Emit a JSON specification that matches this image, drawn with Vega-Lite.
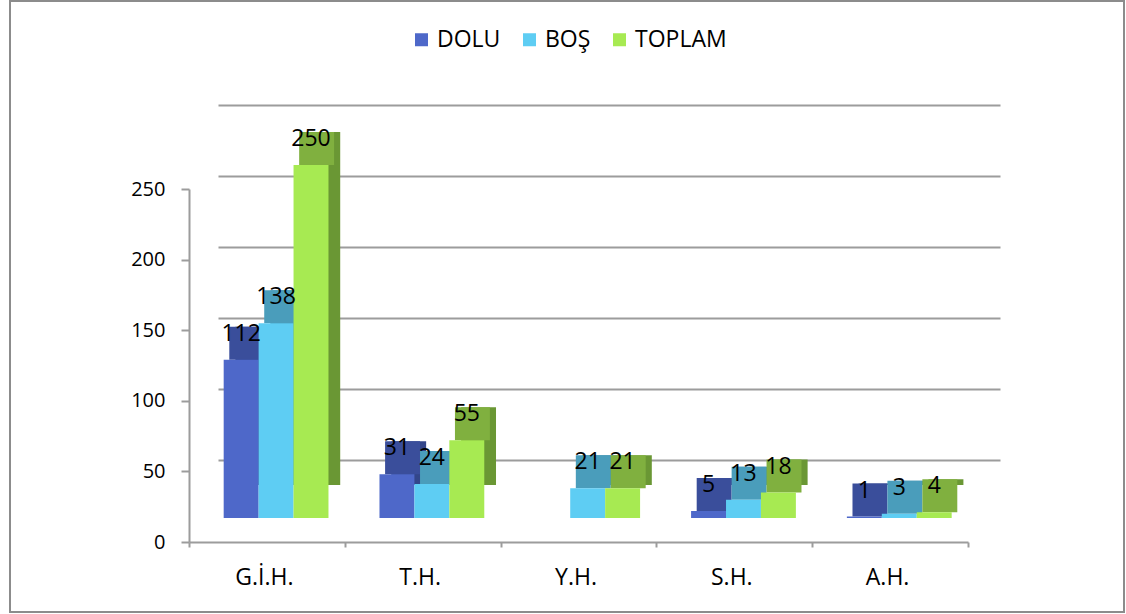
{
  "$schema": "https://vega.github.io/schema/vega-lite/v6.json",
  "width": 1114,
  "height": 611,
  "padding": {"left": 10, "top": 1, "right": 2, "bottom": 2},
  "autosize": {"type": "none"},
  "config": {
    "view": {"stroke": "#8c8c8c", "strokeWidth": 2},
    "font": "Open Sans"
  },
  "data": {
    "values": [
      {"cat": "G.İ.H.", "series": "DOLU", "value": 112},
      {"cat": "G.İ.H.", "series": "BOŞ", "value": 138},
      {"cat": "G.İ.H.", "series": "TOPLAM", "value": 250},
      {"cat": "T.H.", "series": "DOLU", "value": 31},
      {"cat": "T.H.", "series": "BOŞ", "value": 24},
      {"cat": "T.H.", "series": "TOPLAM", "value": 55},
      {"cat": "Y.H.", "series": "BOŞ", "value": 21},
      {"cat": "Y.H.", "series": "TOPLAM", "value": 21},
      {"cat": "S.H.", "series": "DOLU", "value": 5},
      {"cat": "S.H.", "series": "BOŞ", "value": 13},
      {"cat": "S.H.", "series": "TOPLAM", "value": 18},
      {"cat": "A.H.", "series": "DOLU", "value": 1},
      {"cat": "A.H.", "series": "BOŞ", "value": 3},
      {"cat": "A.H.", "series": "TOPLAM", "value": 4}
    ]
  },
  "layer": [
    {
      "mark": {"type": "bar", "opacity": 0},
      "encoding": {
        "x": {
          "field": "cat", "type": "nominal",
          "sort": ["G.İ.H.", "T.H.", "Y.H.", "S.H.", "A.H."],
          "scale": {"range": [208, 990], "paddingInner": 0, "paddingOuter": 0},
          "axis": null
        },
        "y": {
          "field": "value", "type": "quantitative",
          "scale": {"domain": [0, 250], "range": [459, 104], "nice": false},
          "axis": {
            "orient": "left", "grid": true, "gridColor": "#9c9c9c", "gridWidth": 2,
            "labels": false, "ticks": false, "domain": false, "title": null,
            "values": [0, 50, 100, 150, 200, 250]
          }
        }
      }
    },
    {
      "resolve": {"scale": {"color": "independent", "xOffset": "independent"}},
      "encoding": {
        "x": {
          "field": "cat", "type": "nominal",
          "sort": ["G.İ.H.", "T.H.", "Y.H.", "S.H.", "A.H."],
          "scale": {"range": [179, 958], "paddingInner": 0, "paddingOuter": 0},
          "axis": {
            "orient": "bottom", "offset": -70, "title": null, "labelAngle": 0,
            "tickBand": "extent", "domainColor": "#9c9c9c", "domainWidth": 2,
            "tickColor": "#9c9c9c", "tickWidth": 2, "tickSize": 5,
            "labelFont": "Open Sans", "labelFontSize": 23, "labelColor": "black",
            "labelPadding": 19, "labelOffset": -3
          }
        },
        "y": {
          "field": "value", "type": "quantitative",
          "scale": {"domain": [0, 250], "range": [541, 188], "nice": false},
          "axis": {
            "orient": "left", "offset": -179, "grid": false, "title": null,
            "values": [0, 50, 100, 150, 200, 250],
            "domainColor": "#9c9c9c", "domainWidth": 2,
            "tickColor": "#9c9c9c", "tickWidth": 2, "tickSize": 8,
            "labelFont": "Open Sans", "labelFontSize": 20, "labelColor": "black",
            "labelPadding": 16
          }
        }
      },
      "layer": [
        {
          "mark": {"type": "bar", "yOffset": -57, "y2Offset": -57},
          "encoding": {
            "xOffset": {
              "field": "series", "type": "nominal", "sort": ["DOLU", "BOŞ", "TOPLAM"],
              "scale": {"type": "band", "paddingInner": 0, "paddingOuter": 0.73, "align": 0.91}
            },
            "color": {
              "field": "series", "type": "nominal",
              "scale": {"domain": ["DOLU", "BOŞ", "TOPLAM"], "range": ["#33468a", "#3e8ba7", "#6a9734"]},
              "legend": null
            }
          }
        },
        {
          "mark": {"type": "bar", "yOffset": -57, "y2Offset": -24},
          "encoding": {
            "y2": {"field": "value"},
            "xOffset": {
              "field": "series", "type": "nominal", "sort": ["DOLU", "BOŞ", "TOPLAM"],
              "scale": {"type": "band", "paddingInner": 0, "paddingOuter": 0.73, "align": 0.79}
            },
            "color": {
              "field": "series", "type": "nominal",
              "scale": {"domain": ["DOLU", "BOŞ", "TOPLAM"], "range": ["#3a4e9b", "#4a9dbb", "#80b03f"]},
              "legend": null
            }
          }
        },
        {
          "mark": {"type": "bar", "yOffset": -24, "y2Offset": -24},
          "encoding": {
            "xOffset": {
              "field": "series", "type": "nominal", "sort": ["DOLU", "BOŞ", "TOPLAM"],
              "scale": {"type": "band", "paddingInner": 0, "paddingOuter": 0.73, "align": 0.68}
            },
            "color": {
              "field": "series", "type": "nominal",
              "scale": {"domain": ["DOLU", "BOŞ", "TOPLAM"], "range": ["#4e68c9", "#5ecdf3", "#a7ea52"]},
              "legend": {
                "orient": "none", "legendX": 400, "legendY": 27, "direction": "horizontal",
                "title": null, "symbolType": "square", "symbolSize": 169, "symbolStrokeWidth": 0,
                "labelFont": "Open Sans", "labelFontSize": 23, "labelColor": "black",
                "labelOffset": 4, "columnPadding": 17, "padding": 0
              }
            }
          }
        },
        {
          "mark": {"type": "text", "yOffset": -50, "baseline": "middle", "fontSize": 23, "font": "Open Sans", "color": "black"},
          "encoding": {
            "xOffset": {
              "field": "series", "type": "nominal", "sort": ["DOLU", "BOŞ", "TOPLAM"],
              "scale": {"type": "band", "paddingInner": 0, "paddingOuter": 0.73, "align": 0.68}
            },
            "text": {"field": "value", "type": "quantitative"}
          }
        }
      ]
    }
  ],
  "resolve": {
    "scale": {"x": "independent", "y": "independent"},
    "axis": {"x": "independent", "y": "independent"}
  }
}
